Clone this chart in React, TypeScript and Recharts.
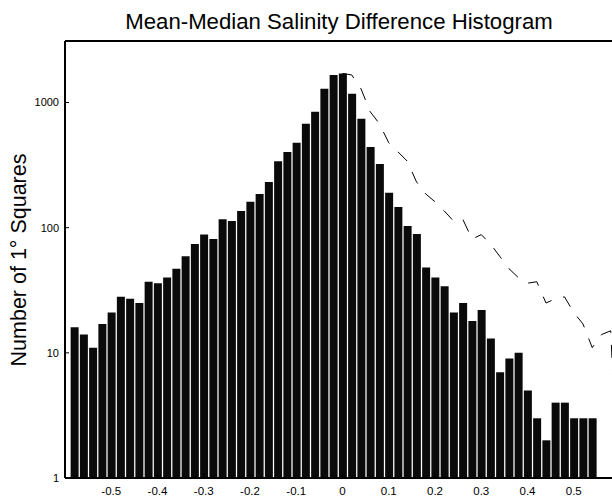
import React from 'react';
import {
  Bar,
  ComposedChart,
  Line,
  XAxis,
  YAxis
} from 'recharts';

// bin centres (width 0.02)
const bins = [
  -0.58, -0.56, -0.54, -0.52, -0.5, -0.48, -0.46, -0.44, -0.42, -0.4,
  -0.38, -0.36, -0.34, -0.32, -0.3, -0.28, -0.26, -0.24, -0.22, -0.2,
  -0.18, -0.16, -0.14, -0.12, -0.1, -0.08, -0.06, -0.04, -0.02, 0,
  0.02, 0.04, 0.06, 0.08, 0.1, 0.12, 0.14, 0.16, 0.18, 0.2,
  0.22, 0.24, 0.26, 0.28, 0.3, 0.32, 0.34, 0.36, 0.38, 0.4,
  0.42, 0.44, 0.46, 0.48, 0.5, 0.52, 0.54, 0.56, 0.58, 0.6
];

// histogram counts, one per bin (null = empty bin)
const counts = [
  16, 14, 11, 17, 21, 28, 27, 25, 37, 36,
  40, 47, 59, 74, 88, 81, 117, 113, 136, 161,
  186, 232, 340, 403, 476, 676, 843, 1285, 1660, 1707,
  1176, 742, 442, 323, 190, 146, 103, 89, 48, 40,
  34, 21, 25, 18, 22, 13, 7, 9, 10, 5,
  3, 2, 4, 4, 3, 3, 3, null, null, null
];

// dashed curve (negative half folded over to the positive side)
const folded = [
  null, null, null, null, null, null, null, null, null, null,
  null, null, null, null, null, null, null, null, null, null,
  null, null, null, null, null, null, null, null, null, 1707,
  1660, 1285, 843, 676, 476, 403, 340, 232, 186, 161,
  136, 113, 117, 81, 88, 74, 59, 47, 40, 36,
  37, 25, 27, 28, 21, 17, 11, 14, 15, 0.3
];

const xTicks = [-0.5, -0.4, -0.3, -0.2, -0.1, 0, 0.1, 0.2, 0.3, 0.4, 0.5];
const yTicks = [1, 10, 100, 1000];

const data = bins.map((b, i) => ({ bin: b, count: counts[i], folded: folded[i] }));

const font = '"Liberation Sans", Arial, Helvetica, sans-serif';
const axisLine = { stroke: '#000', strokeWidth: 2 };

export default function App() {
  return (
    <div
      style={{
        position: 'fixed',
        left: 0,
        top: 0,
        width: 612,
        height: 496,
        overflow: 'hidden',
        background: '#fff'
      }}
    >
      <ComposedChart
        width={620}
        height={496}
        data={data}
        margin={{ top: 40, right: 0, bottom: 0, left: 20 }}
      >
        <XAxis
          dataKey="bin"
          type="number"
          domain={[-0.6, 0.6]}
          ticks={xTicks}
          allowDataOverflow
          height={18}
          axisLine={axisLine}
          tickLine={{ stroke: '#000' }}
          tickSize={-5}
          tickMargin={14}
          tickFormatter={(v: number) => (v === 0 ? '0' : String(v))}
          tick={{ fill: '#000', fontSize: 11.5, fontFamily: font }}
        />
        <XAxis
          xAxisId="top"
          orientation="top"
          dataKey="bin"
          type="number"
          domain={[-0.6, 0.6]}
          ticks={xTicks}
          allowDataOverflow
          height={1}
          axisLine={axisLine}
          tickLine={{ stroke: '#000' }}
          tickSize={-6}
          tick={false}
        />
        <YAxis
          type="number"
          scale="log"
          domain={[1, 3100]}
          ticks={yTicks}
          allowDataOverflow
          width={45}
          axisLine={axisLine}
          tickLine={{ stroke: '#000' }}
          tickSize={-4}
          tickMargin={10}
          tick={{ fill: '#000', fontSize: 11, fontFamily: font }}
        />
        <Bar
          dataKey="count"
          fill="#0a0a0a"
          barSize={8}
          isAnimationActive={false}
        />
        <Line
          dataKey="folded"
          type="linear"
          stroke="#000"
          strokeWidth={1}
          strokeDasharray="13 12"
          dot={false}
          activeDot={false}
          isAnimationActive={false}
        />
      </ComposedChart>

      {/* title and y label */}
      <svg
        width={612}
        height={496}
        style={{ position: 'absolute', left: 0, top: 0, pointerEvents: 'none' }}
      >
        <text
          x={339}
          y={29}
          textAnchor="middle"
          fontSize={22.2}
          fontFamily={font}
          fill="#000"
        >
          Mean-Median Salinity Difference Histogram
        </text>
        <text
          x={0}
          y={0}
          transform="translate(26,260) rotate(-90)"
          textAnchor="middle"
          fontSize={21.5}
          fontFamily={font}
          fill="#000"
        >
          Number of 1° Squares
        </text>
      </svg>
    </div>
  );
}
